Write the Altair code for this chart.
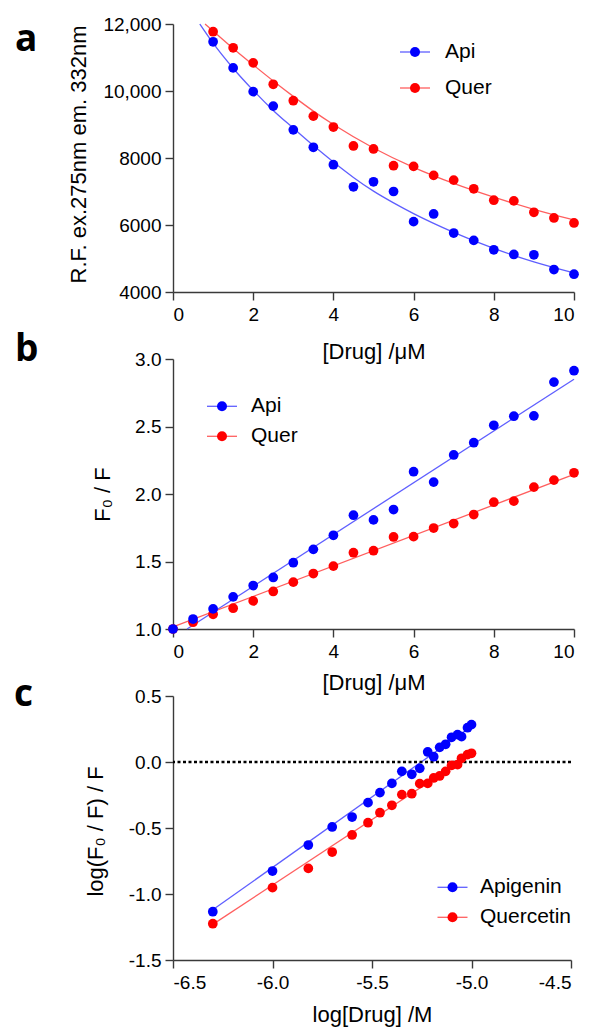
import altair as alt
import pandas as pd

# ---------------- data ----------------
# Panel a : fluorescence intensity vs drug concentration (uM)
A_CONC = [1.0, 1.5, 2.0, 2.5, 3.0, 3.5, 4.0, 4.5, 5.0, 5.5, 6.0, 6.5, 7.0, 7.5, 8.0, 8.5, 9.0, 9.5, 10.0]
A_API = [11470, 10690, 9980, 9550, 8840, 8320, 7800, 7140, 7290, 7000, 6100, 6330, 5760, 5540, 5260, 5120, 5110, 4670, 4530]
A_QUER = [11770, 11290, 10840, 10200, 9710, 9250, 8925, 8360, 8270, 7770, 7750, 7480, 7340, 7080, 6740, 6720, 6380, 6210, 6060]
A_FIT_API_X = [0.67, 1.0, 1.5, 2.0, 2.5, 3.0, 3.5, 4.0, 4.5, 5.0, 5.5, 6.0, 7.0, 8.0, 9.0, 10.0]
A_FIT_API_Y = [12000, 11430, 10680, 10020, 9420, 8890, 8370, 7880, 7420, 7010, 6660, 6340, 5780, 5300, 4900, 4570]
A_FIT_QUER_X = [0.8, 1.0, 1.5, 2.0, 2.5, 3.0, 3.5, 4.0, 5.0, 6.0, 7.0, 8.0, 9.0, 10.0]
A_FIT_QUER_Y = [12000, 11790, 11270, 10780, 10300, 9840, 9400, 9000, 8300, 7720, 7240, 6830, 6470, 6150]
A_XTICKS = [0, 2, 4, 6, 8, 10]
A_YTICKS = [4000, 6000, 8000, 10000, 12000]

# Panel b : Stern-Volmer plot F0/F vs concentration
B_CONC = [0.0, 0.5, 1.0, 1.5, 2.0, 2.5, 3.0, 3.5, 4.0, 4.5, 5.0, 5.5, 6.0, 6.5, 7.0, 7.5, 8.0, 8.5, 9.0, 9.5, 10.0]
B_API = [1.000, 1.074, 1.149, 1.238, 1.322, 1.382, 1.491, 1.590, 1.694, 1.843, 1.808, 1.885, 2.165, 2.088, 2.289, 2.380, 2.509, 2.576, 2.579, 2.829, 2.913]
B_QUER = [1.000, 1.050, 1.109, 1.154, 1.208, 1.278, 1.347, 1.411, 1.466, 1.565, 1.580, 1.682, 1.684, 1.748, 1.781, 1.848, 1.939, 1.947, 2.051, 2.103, 2.157]
B_FIT_API_X = [0.35, 10.0]
B_FIT_API_Y = [1.0, 2.85]
B_FIT_QUER_X = [0.0, 10.0]
B_FIT_QUER_Y = [1.015, 2.145]
B_XTICKS = [0, 2, 4, 6, 8, 10]
B_YTICKS = [1.0, 1.5, 2.0, 2.5, 3.0]

# Panel c : double-log plot
C_LOGC = [-6.30, -6.00, -5.82, -5.70, -5.60, -5.52, -5.46, -5.40, -5.35, -5.30,
          -5.26, -5.22, -5.19, -5.16, -5.13, -5.10, -5.07, -5.05, -5.02, -5.00]
C_API = [-1.134, -0.826, -0.629, -0.492, -0.417, -0.308, -0.232, -0.162, -0.071, -0.093,
         -0.048, 0.076, 0.040, 0.111, 0.134, 0.187, 0.207, 0.192, 0.260, 0.283]
C_QUER = [-1.225, -0.952, -0.806, -0.682, -0.553, -0.460, -0.384, -0.328, -0.247, -0.240,
          -0.164, -0.162, -0.121, -0.106, -0.071, -0.025, -0.020, 0.028, 0.056, 0.066]
C_FIT_API_X = [-6.30, -5.00]
C_FIT_API_Y = [-1.12, 0.27]
C_FIT_QUER_X = [-6.30, -5.00]
C_FIT_QUER_Y = [-1.23, 0.06]
C_REF_Y = [0.0]
C_XTICKS = [-6.5, -6.0, -5.5, -5.0, -4.5]
C_YTICKS = [-1.5, -1.0, -0.5, 0.0, 0.5]

SERIES_AB = ["Api", "Quer"]
SERIES_C = ["Apigenin", "Quercetin"]
PANEL_LETTERS = ["a", "b", "c"]
POINT_COLORS = ["#0000ff", "#ff0000"]
LINE_COLORS = ["#5f5fff", "#ff5f5f"]

FONT = "Liberation Sans"
AXIS_STYLE = dict(domainColor="#3a3a3a", domainWidth=1.4, tickColor="#3a3a3a", tickWidth=1.4,
                  tickSize=8, labelFont=FONT, labelFontSize=19, labelColor="black",
                  titleFont=FONT, titleFontSize=22, titleFontWeight="normal", titleColor="black",
                  grid=False)
DEC = "replace(format(datum.value, '.1f'), '\u2212', '-')"


def points_df(x, y1, y2, names):
    # second series first so that the first one is drawn on top
    rows = [{"x": a, "y": b, "compound": names[1]} for a, b in zip(x, y2)]
    rows += [{"x": a, "y": b, "compound": names[0]} for a, b in zip(x, y1)]
    return pd.DataFrame(rows)


def fit_df(x1, y1, x2, y2, names):
    rows = [{"x": a, "y": b, "fit": names[0]} for a, b in zip(x1, y1)]
    rows += [{"x": a, "y": b, "fit": names[1]} for a, b in zip(x2, y2)]
    return pd.DataFrame(rows)


def panel(pts, fits, names, xdom, ydom, xaxis, yaxis, leg, letter, letter_xy, w, h,
          interp="linear", extra=None):
    xs = alt.Scale(domain=xdom, nice=False, zero=False)
    ys = alt.Scale(domain=ydom, nice=False, zero=False)
    common_leg = dict(title=None, orient="none", legendX=leg["x"], legendY=leg["y"],
                      symbolSize=100, symbolStrokeWidth=1.3, symbolOffset=0,
                      labelFont=FONT, labelFontSize=21, labelColor="black",
                      labelOffset=leg["lo"], rowPadding=leg["rp"], padding=0)
    lines = alt.Chart(fits).mark_line(strokeWidth=1.3, interpolate=interp).encode(
        x=alt.X("x:Q", scale=xs, axis=xaxis),
        y=alt.Y("y:Q", scale=ys, axis=yaxis),
        color=alt.Color("fit:N", scale=alt.Scale(domain=names, range=LINE_COLORS),
                        legend=alt.Legend(symbolType="M-3,0L3,0", symbolFillColor="transparent",
                                          labelOpacity=0, **common_leg)),
    )
    dots = alt.Chart(pts).mark_point(filled=True, size=95, opacity=1).encode(
        x=alt.X("x:Q", scale=xs),
        y=alt.Y("y:Q", scale=ys),
        fill=alt.Fill("compound:N", scale=alt.Scale(domain=names, range=POINT_COLORS),
                      legend=alt.Legend(symbolType="circle", symbolStrokeColor="transparent",
                                        **common_leg)),
    )
    lab = alt.Chart(pd.DataFrame({"t": [letter]})).mark_text(
        align="left", baseline="alphabetic", font="Open Sans", fontSize=37,
        fontWeight="bold", color="black").encode(
        text="t:N", x=alt.value(letter_xy[0]), y=alt.value(letter_xy[1]))
    layers = [lines]
    if extra is not None:
        layers.append(extra(xs, ys))
    layers += [dots, lab]
    return alt.layer(*layers).properties(width=w, height=h).resolve_scale(
        color="independent", fill="independent").resolve_legend(
        color="independent", fill="independent")


# ---------------- panel a ----------------
pa = panel(
    points_df(A_CONC, A_API, A_QUER, SERIES_AB),
    fit_df(A_FIT_API_X, A_FIT_API_Y, A_FIT_QUER_X, A_FIT_QUER_Y, SERIES_AB),
    SERIES_AB, [0, 10], [4000, 12000],
    alt.Axis(values=A_XTICKS, format="d", labelPadding=5, title="[Drug] /\u03bcM",
             titleY=66, titleBaseline="alphabetic", **AXIS_STYLE),
    alt.Axis(values=A_YTICKS, labelPadding=4,
             labelExpr="datum.value >= 10000 ? format(datum.value, ',') : format(datum.value, 'd')",
             title="R.F. ex.275nm em. 332nm", titleX=-88, titleY=130,
             titleBaseline="alphabetic", titleAlign="center", **AXIS_STYLE),
    dict(x=231.5, y=17.5, lo=19.5, rp=14), PANEL_LETTERS[0], (-158, 27), 401, 268,
    interp="monotone",
)

# ---------------- panel b ----------------
pb = panel(
    points_df(B_CONC, B_API, B_QUER, SERIES_AB),
    fit_df(B_FIT_API_X, B_FIT_API_Y, B_FIT_QUER_X, B_FIT_QUER_Y, SERIES_AB),
    SERIES_AB, [0, 10], [1.0, 3.0],
    alt.Axis(values=B_XTICKS, format="d", labelPadding=5, title="[Drug] /\u03bcM",
             titleY=60, titleBaseline="alphabetic", **AXIS_STYLE),
    alt.Axis(values=B_YTICKS, labelPadding=4, labelExpr=DEC,
             title="F\u2080 / F", titleX=-64, titleY=135,
             titleBaseline="alphabetic", titleAlign="center", **AXIS_STYLE),
    dict(x=38.5, y=36.8, lo=18.5, rp=8), PANEL_LETTERS[1], (-158, 2), 401, 270,
)


# ---------------- panel c ----------------
def ref_line(xs, ys):
    return alt.Chart(pd.DataFrame({"y": C_REF_Y})).mark_rule(
        color="black", strokeWidth=2.6, strokeDash=[3, 2.5]).encode(y=alt.Y("y:Q", scale=ys))


pc = panel(
    points_df(C_LOGC, C_API, C_QUER, SERIES_C),
    fit_df(C_FIT_API_X, C_FIT_API_Y, C_FIT_QUER_X, C_FIT_QUER_Y, SERIES_C),
    SERIES_C, [-6.5, -4.5], [-1.5, 0.5],
    alt.Axis(values=C_XTICKS, labelExpr=DEC, labelPadding=5, title="log[Drug] /M",
             titleY=61, titleBaseline="alphabetic", **AXIS_STYLE),
    alt.Axis(values=C_YTICKS, labelPadding=4, labelExpr=DEC,
             title="log(F\u2080 / F) / F", titleX=-71, titleY=135,
             titleBaseline="alphabetic", titleAlign="center", **AXIS_STYLE),
    dict(x=269, y=180.8, lo=17, rp=8), PANEL_LETTERS[2], (-159, 10), 398, 264,
    extra=ref_line,
)

chart = alt.vconcat(pa, pb, pc, spacing=67, bounds="flush").resolve_scale(
    color="independent", fill="independent").resolve_legend(
    color="independent", fill="independent").properties(
    padding={"left": 14, "top": 15, "right": 5, "bottom": 5}
).configure_view(stroke=None)

chart.save("out.html", embed_options={"renderer": "svg", "actions": False})
